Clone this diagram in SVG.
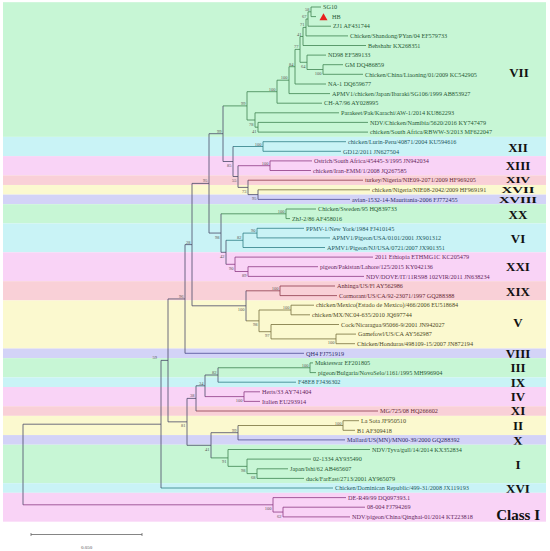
<svg xmlns="http://www.w3.org/2000/svg" width="550" height="551" viewBox="0 0 550 551">
<style>
text{font-family:"Liberation Serif","Times New Roman",serif}
.lf{font-size:6.2px}
.bs{font-size:4.5px;fill:#555;text-anchor:end}
.gt{font-size:13px;font-weight:bold;fill:#111;text-anchor:middle}
.gs{font-size:8.4px}
.bgG{fill:#c7f6d5}.bgC{fill:#c9f3f6}.bgP{fill:#f9d3f6}.bgS{fill:#f9d0d7}.bgY{fill:#fbf9cf}.bgL{fill:#d3d3f7}
path{fill:none;stroke-width:0.8}
.lG{stroke:#3f8452}.lC{stroke:#2f7d86}.lP{stroke:#8d3b84}.lS{stroke:#8e3b4b}.lY{stroke:#77703c}.lL{stroke:#4c4c96}.lB{stroke:#4a4a68}
.tG{fill:#275a35}.tC{fill:#1d5961}.tP{fill:#65285e}.tS{fill:#672a36}.tY{fill:#4f4a26}.tL{fill:#2d2d6a}
</style>
<rect width="550" height="551" fill="#fff"/>
<g id="bands">
<g id="clade-VII"><rect class="bgG" x="3" y="2.19" width="543" height="134.68"/><text class="gt" x="519" y="77">VII</text></g>
<g id="clade-XII"><rect class="bgC" x="3" y="136.87" width="543" height="19.24"/><text class="gt" x="518" y="151.5">XII</text></g>
<g id="clade-XIII"><rect class="bgP" x="3" y="156.11" width="543" height="19.24"/><text class="gt" x="518" y="170.3">XIII</text></g>
<g id="clade-XIV"><rect class="bgS" x="3" y="175.35" width="543" height="9.62"/><text class="gt gs" x="518" y="183.3" textLength="24" lengthAdjust="spacingAndGlyphs">XIV</text></g>
<g id="clade-XVII"><rect class="bgY" x="3" y="184.97" width="543" height="9.62"/><text class="gt gs" x="518" y="192.9" textLength="33" lengthAdjust="spacingAndGlyphs">XVII</text></g>
<g id="clade-XVIII"><rect class="bgL" x="3" y="194.59" width="543" height="9.62"/><text class="gt gs" x="518" y="202.6" textLength="38" lengthAdjust="spacingAndGlyphs">XVIII</text></g>
<g id="clade-XX"><rect class="bgG" x="3" y="204.21" width="543" height="19.24"/><text class="gt" x="518" y="218.8">XX</text></g>
<g id="clade-VI"><rect class="bgC" x="3" y="223.45" width="543" height="28.86"/><text class="gt" x="518" y="242.6">VI</text></g>
<g id="clade-XXI"><rect class="bgP" x="3" y="252.31" width="543" height="28.86"/><text class="gt" x="518" y="271.2">XXI</text></g>
<g id="clade-XIX"><rect class="bgS" x="3" y="281.17" width="543" height="19.24"/><text class="gt" x="518" y="295.5">XIX</text></g>
<g id="clade-V"><rect class="bgY" x="3" y="300.41" width="543" height="48.1"/><text class="gt" x="518" y="327">V</text></g>
<g id="clade-VIII"><rect class="bgL" x="3" y="348.51" width="543" height="9.62"/><text class="gt" x="518" y="357.6">VIII</text></g>
<g id="clade-III"><rect class="bgG" x="3" y="358.13" width="543" height="19.24"/><text class="gt" x="518" y="372.3">III</text></g>
<g id="clade-IX"><rect class="bgC" x="3" y="377.37" width="543" height="9.62"/><text class="gt" x="518" y="386.7">IX</text></g>
<g id="clade-IV"><rect class="bgP" x="3" y="386.99" width="543" height="19.24"/><text class="gt" x="518" y="400.8">IV</text></g>
<g id="clade-XI"><rect class="bgS" x="3" y="406.23" width="543" height="9.62"/><text class="gt" x="518" y="415.4">XI</text></g>
<g id="clade-II"><rect class="bgY" x="3" y="415.85" width="543" height="19.24"/><text class="gt" x="518" y="430">II</text></g>
<g id="clade-X"><rect class="bgL" x="3" y="435.09" width="543" height="9.62"/><text class="gt" x="518" y="444.5">X</text></g>
<g id="clade-I"><rect class="bgG" x="3" y="444.71" width="543" height="38.48"/><text class="gt" x="518" y="468.7">I</text></g>
<g id="clade-XVI"><rect class="bgC" x="3" y="483.19" width="543" height="9.62"/><text class="gt" x="518" y="492.7">XVI</text></g>
<g id="clade-ClassI"><rect class="bgP" x="3" y="492.81" width="543" height="28.86"/><text class="gt" x="540" y="520" style="font-size:15px;text-anchor:end">Class I</text></g>
</g>
<g id="connectors">
<path class="lG" d="M311 7V16.6M311 7H321M311 16.6H316M308 11.8V26.2M308 11.8H311M308 26.2H331M306 19V35.9M306 19H308M306 35.9H348M303 27.4V45.5M303 27.4H306M303 45.5H366M323 64.7V74.3M323 64.7H343M323 74.3H363M307 55.1V69.5M307 55.1H326M307 69.5H323M300 36.5V62.3M300 36.5H303M300 62.3H307M295 49.4V84M295 49.4H300M295 84H326M289 66.7V93.6M289 66.7H295M289 93.6H330M277 80.2V103.2M277 80.2H289M277 103.2H322M258 122.4V132.1M258 122.4H368M258 132.1H368M255 112.8V127.2M255 112.8H339M255 127.2H258M247 91.7V120M247 91.7H277M247 120H255M223 105.9H247"/>
<path class="lG" d="M286 209V218.6M286 209H316M286 218.6H290M221 213.8H286M310 362.9V372.6M310 362.9H313M310 372.6H316M218 367.75H310M257 468.8V478.4M257 468.8H288M257 478.4H304M247 459.1V473.6M247 459.1H311M247 473.6H257M228 449.5V466.35M228 449.5H370M228 466.35H247M211 457.9H228"/>
<path class="lC" d="M263 141.7V151.3M263 141.7H346M263 151.3H341M233 146.5H263M257 228.3V237.9M257 228.3H304M257 237.9H330M243 233.1V247.5M243 233.1H257M243 247.5H325M226 240.3H243M218 382.2H296M161 488H333"/>
<path class="lP" d="M270 160.9V170.5M270 160.9H312M270 170.5H311M238 165.7H270M248 266.7V276.4M248 266.7H318M248 276.4H364M235 257.1V271.5M235 257.1H373M235 271.5H248M226 264.3H235M244 391.8V401.4M244 391.8H260M244 401.4H260M205 396.6H244M283 507.2V516.9M283 507.2H365M283 516.9H350M273 497.6V512.05M273 497.6H346M273 512.05H283M23 504.8H273"/>
<path class="lS" d="M248 180.2H363M280 286V295.6M280 286H335M280 295.6H337M246 290.8H280M196 411H378"/>
<path class="lY" d="M258 189.8H370M291 305.2V314.8M291 305.2H314M291 314.8H310M336 334.1V343.7M336 334.1H356M336 343.7H355M271 324.5V338.9M271 324.5H339M271 338.9H336M259 310V331.7M259 310H291M259 331.7H271M246 320.85H259M343 420.7V430.3M343 420.7H359M343 430.3H355M238 425.5H343"/>
<path class="lL" d="M258 199.4H350M185 353.3H304M238 439.9H345"/>
<path class="lB" d="M258 189.8V199.4M248 180.2V194.6M248 194.6H258M238 165.7V187.4M238 187.4H248M233 146.5V176.5M233 176.5H238M223 105.9V161.5M223 161.5H233M226 240.3V264.3M221 213.8V252.3M221 252.3H226M209 133.7V233.05M209 133.7H223M209 233.05H221M246 290.8V320.85M192 183.4V305.8M192 183.4H209M192 305.8H246M185 244.6V353.3M185 244.6H192M218 367.75V382.2M205 375V396.6M205 375H218M196 385.8V411M196 385.8H205M238 425.5V439.9M211 432.7V457.9M211 432.7H238M187 398.4V445.3M187 398.4H196M187 445.3H211M168 298.95V421.85M168 298.95H185M168 421.85H187M161 360.4V488M161 360.4H168M23 424.2V504.8M23 424.2H161"/>
</g>
<g id="bootstrap">
<text class="bs" x="309.5" y="10.8">58</text><text class="bs" x="306.5" y="18">67</text><text class="bs" x="304.5" y="26.4">71</text><text class="bs" x="301.5" y="35.5">41</text><text class="bs" x="298.5" y="48.4">77</text><text class="bs" x="293.5" y="65.7">84</text><text class="bs" x="287.5" y="79.2">100</text><text class="bs" x="275.5" y="90.7">100</text><text class="bs" x="245.5" y="104.9">99</text><text class="bs" x="261.5" y="145.5">100</text><text class="bs" x="268.5" y="164.7">100</text><text class="bs" x="221.5" y="132.7">99</text><text class="bs" x="284.5" y="212.8">100</text><text class="bs" x="255.5" y="232.1">90</text><text class="bs" x="241.5" y="239.3">82</text><text class="bs" x="207.5" y="182.4">95</text><text class="bs" x="190.5" y="243.6">28</text><text class="bs" x="183.5" y="298">96</text><text class="bs" x="278.5" y="289.8">100</text><text class="bs" x="289.5" y="309">100</text><text class="bs" x="157" y="359.4">59</text><text class="bs" x="308.5" y="366.75">100</text><text class="bs" x="216.5" y="374">82</text><text class="bs" x="203.5" y="384.8">34</text><text class="bs" x="194.5" y="397.4">38</text><text class="bs" x="341.5" y="424.5">100</text><text class="bs" x="236.5" y="431.7">99</text>
<text class="bs" x="321.5" y="75">100</text><text class="bs" x="305.5" y="67.8">64</text><text class="bs" x="253.5" y="125.5">78</text><text class="bs" x="256.5" y="132.7">41</text><text class="bs" x="231.5" y="167">85</text><text class="bs" x="236.5" y="182">55</text><text class="bs" x="246.5" y="192.9">73</text><text class="bs" x="256.5" y="200.1">95</text><text class="bs" x="219.5" y="238.55">98</text><text class="bs" x="224.5" y="257.8">42</text><text class="bs" x="233.5" y="269.8">90</text><text class="bs" x="246.5" y="277">89</text><text class="bs" x="244.5" y="311.3">100</text><text class="bs" x="257.5" y="326.35">98</text><text class="bs" x="269.5" y="337.2">97</text><text class="bs" x="334.5" y="344.4">100</text><text class="bs" x="242.5" y="402.1">100</text><text class="bs" x="185.5" y="427.35">81</text><text class="bs" x="209.5" y="450.8">41</text><text class="bs" x="226.5" y="463.4">91</text><text class="bs" x="245.5" y="471.85">98</text><text class="bs" x="255.5" y="479.1">68</text><text class="bs" x="271.5" y="510.3">100</text><text class="bs" x="281.5" y="517.55">62</text>
</g>
<g id="leaves">
<g id="n01"><text class="lf tG" x="323" y="9.2">SG10</text></g>
<g id="n02"><polygon points="319.5,20.3 327.5,20.3 323.5,13.2" fill="#e8211d"/><text class="lf tG" x="332" y="18.8">HB</text></g>
<g id="n03"><text class="lf tG" x="333" y="28.4">ZJ1 AF431744</text></g>
<g id="n04"><text class="lf tG" x="350" y="38.1">Chicken/Shandong/PYan/04 EF579733</text></g>
<g id="n05"><text class="lf tG" x="368" y="47.7">Behshahr KX268351</text></g>
<g id="n06"><text class="lf tG" x="328" y="57.3">ND98 EF589133</text></g>
<g id="n07"><text class="lf tG" x="345" y="66.9">GM DQ486859</text></g>
<g id="n08"><text class="lf tG" x="365" y="76.5">Chicken/China/Liaoning/01/2009 KC542905</text></g>
<g id="n09"><text class="lf tG" x="328" y="86.2">NA-1 DQ659677</text></g>
<g id="n10"><text class="lf tG" x="332" y="95.8">APMV1/chicken/Japan/Ibaraki/SG106/1999 AB853927</text></g>
<g id="n11"><text class="lf tG" x="324" y="105.4">CH-A7/96 AY028995</text></g>
<g id="n12"><text class="lf tG" x="341" y="115">Parakeet/Pak/Karachi/AW-1/2014 KU862293</text></g>
<g id="n13"><text class="lf tG" x="370" y="124.6">NDV/Chicken/Namibia/5620/2016 KY747479</text></g>
<g id="n14"><text class="lf tG" x="370" y="134.3">chicken/South Africa/RBWW-3/2013 MF622047</text></g>
<g id="n15"><text class="lf tC" x="348" y="143.9">chicken/Lurin-Peru/40871/2004 KU594616</text></g>
<g id="n16"><text class="lf tC" x="343" y="153.5">GD12/2011 JN627504</text></g>
<g id="n17"><text class="lf tP" x="314" y="163.1">Ostrich/South Africa/45445-3/1995 JN942034</text></g>
<g id="n18"><text class="lf tP" x="313" y="172.7">chicken/Iran-EMM/1/2008 JQ267585</text></g>
<g id="n19"><text class="lf tS" x="365" y="182.4">turkey/Nigeria/NIE09-2071/2009 HF969205</text></g>
<g id="n20"><text class="lf tY" x="372" y="192">chicken/Nigeria/NIE08-2042/2009 HF969191</text></g>
<g id="n21"><text class="lf tL" x="352" y="201.6">avian-1532-14-Mauritania-2006 FJ772455</text></g>
<g id="n22"><text class="lf tG" x="318" y="211.2">Chicken/Sweden/95 HQ839733</text></g>
<g id="n23"><text class="lf tG" x="292" y="220.8">ZhJ-2/86 AF458016</text></g>
<g id="n24"><text class="lf tC" x="306" y="230.5">PPMV-1/New York/1984 FJ410145</text></g>
<g id="n25"><text class="lf tC" x="332" y="240.1">APMV1/Pigeon/USA/0101/2001 JX901312</text></g>
<g id="n26"><text class="lf tC" x="327" y="249.7">APMV1/Pigeon/NJ/USA/0721/2007 JX901351</text></g>
<g id="n27"><text class="lf tP" x="375" y="259.3">2011 Ethiopia ETHMG1C KC205479</text></g>
<g id="n28"><text class="lf tP" x="320" y="268.9">pigeon/Pakistan/Lahore/125/2015 KY042136</text></g>
<g id="n29"><text class="lf tP" x="366" y="278.6">NDV/DOVE/IT/11RS98 102VIR/2011 JN638234</text></g>
<g id="n30"><text class="lf tS" x="337" y="288.2">Anhinga/US/Fl AY562986</text></g>
<g id="n31"><text class="lf tS" x="339" y="297.8">Cormorant/US/CA/92-23071/1997 GQ288388</text></g>
<g id="n32"><text class="lf tY" x="316" y="307.4">chicken/Mexico(Estado de Mexico)/466/2006 EU518684</text></g>
<g id="n33"><text class="lf tY" x="312" y="317">chicken/MX/NC04-635/2010 JQ697744</text></g>
<g id="n34"><text class="lf tY" x="341" y="326.7">Cock/Nicaragua/95066-9/2001 JN942027</text></g>
<g id="n35"><text class="lf tY" x="358" y="336.3">Gamefowl/US/CA AY562987</text></g>
<g id="n36"><text class="lf tY" x="357" y="345.9">Chicken/Honduras/498109-15/2007 JN872194</text></g>
<g id="n37"><text class="lf tL" x="306" y="355.5">QH4 FJ751919</text></g>
<g id="n38"><text class="lf tG" x="315" y="365.1">Mukteswar EF201805</text></g>
<g id="n39"><text class="lf tG" x="318" y="374.8">pigeon/Bulgaria/NovoSelo/1161/1995 MH996904</text></g>
<g id="n40"><text class="lf tC" x="298" y="384.4">F48E8 FJ436302</text></g>
<g id="n41"><text class="lf tP" x="262" y="394">Herts/33 AY741404</text></g>
<g id="n42"><text class="lf tP" x="262" y="403.6">Italien EU293914</text></g>
<g id="n43"><text class="lf tS" x="380" y="413.2">MG/725/08 HQ266602</text></g>
<g id="n44"><text class="lf tY" x="361" y="422.9">La Sota JF950510</text></g>
<g id="n45"><text class="lf tY" x="357" y="432.5">B1 AF309418</text></g>
<g id="n46"><text class="lf tL" x="347" y="442.1">Mallard/US(MN)/MN00-39/2000 GQ288392</text></g>
<g id="n47"><text class="lf tG" x="372" y="451.7">NDV/Tyva/gull/14/2014 KX352834</text></g>
<g id="n48"><text class="lf tG" x="313" y="461.3">02-1334 AY935490</text></g>
<g id="n49"><text class="lf tG" x="290" y="471">Japan/Ishi/62 AB465607</text></g>
<g id="n50"><text class="lf tG" x="306" y="480.6">duck/FarEast/2713/2001 AY965079</text></g>
<g id="n51"><text class="lf tC" x="335" y="490.2">Chicken/Dominican Republic/499-31/2008 JX119193</text></g>
<g id="n52"><text class="lf tP" x="348" y="499.8">DE-R49/99 DQ097393.1</text></g>
<g id="n53"><text class="lf tP" x="367" y="509.4">08-004 FJ794269</text></g>
<g id="n54"><text class="lf tP" x="352" y="519.1">NDV/pigeon/China/Qinghai-01/2014 KT223818</text></g>
</g>
<g id="scale">
<path d="M31 534.5H142M31 533V536M142 533V536" stroke="#666" stroke-width="0.8" fill="none"/>
<text x="86.5" y="549" font-size="5" fill="#555" text-anchor="middle">0.050</text>
</g>
</svg>
